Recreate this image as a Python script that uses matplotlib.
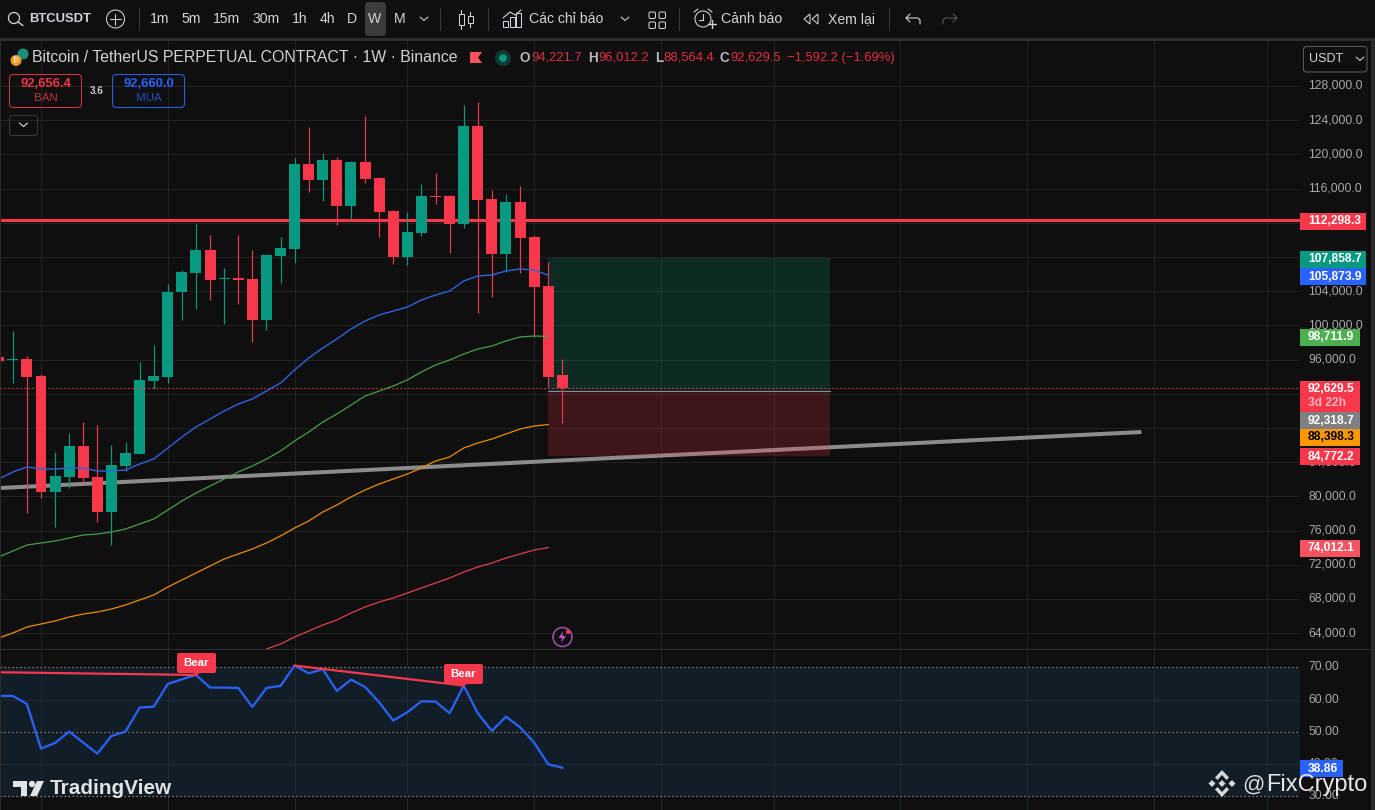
import matplotlib
matplotlib.use('Agg')
import matplotlib.pyplot as plt
from matplotlib.patches import FancyBboxPatch, Circle, Polygon, Rectangle

plt.rcParams['font.family'] = ['Liberation Sans', 'DejaVu Sans']

# weekly candles
opens = [96304, 95900, 96070, 94081, 80513, 82268, 85894, 82268, 78173, 83555, 84958, 93496, 93964, 103905,
         106128, 108818, 105426, 105543, 105426, 100630, 108116, 108935, 118876, 117005, 119344, 113964, 119110,
         117239, 113379, 107999, 110806, 115134, 115134, 111858, 123321, 114783, 108350, 114432, 110338, 104607,
         94221.7]
highs = [96421, 99344, 96421, 94315, 85192, 87414, 88700, 88350, 86011, 86361, 95719, 97707, 104841, 106478,
         111858, 110572, 106712, 110572, 108818, 108350, 110338, 119578, 123204, 120163, 119696, 119227, 124491,
         117356, 113496, 113262, 116537, 117824, 115251, 125777, 126128, 115836, 115368, 116303, 110572, 107414,
         96012.2]
lows = [95719, 93262, 78056, 79811, 76418, 80981, 81566, 77003, 74313, 82970, 84958, 92560, 93262, 100630,
        101917, 102970, 100162, 102502, 98058, 99461, 104958, 107297, 115602, 114549, 111742, 112443, 116654,
        110338, 107180, 107063, 110455, 114198, 108467, 111391, 101449, 103320, 106244, 106128, 98643, 92794,
        88564.4]
closes = [95836, 96070, 93964, 80513, 82385, 85894, 82151, 78173, 83672, 85075, 93613, 94081, 103905, 106244,
          108818, 105309, 105543, 105309, 100630, 108233, 109052, 118876, 117005, 119344, 113964, 119110, 117122,
          113262, 107999, 110923, 115134, 115017, 111858, 123321, 114666, 108350, 114432, 110221, 104490, 93964,
          92629.5]

ma_blue = [82034, 82853, 83438, 83204, 83204, 83321, 83321, 82970, 82970, 83087, 83789, 84373, 85660, 86946,
           88116, 89052, 89987, 90806, 91391, 92327, 93262, 94783, 96186, 97356, 98409, 99578, 100514, 101216,
           101683, 102151, 102970, 103555, 104023, 105192, 105777, 105894, 106362, 106596, 106479, 105874]
ma_green = [72911, 73613, 74315, 74549, 74783, 75134, 75484, 75601, 75835, 76186, 76771, 77356, 78408, 79461,
            80397, 81215, 82034, 82853, 83555, 84373, 85309, 86479, 87531, 88701, 89637, 90689, 91742, 92327,
            92911, 93613, 94549, 95368, 95952, 96654, 97239, 97590, 98175, 98642, 98759, 98712]
ma_orange = [63438, 64022, 64724, 65075, 65426, 65894, 66245, 66478, 66829, 67297, 67882, 68467, 69402, 70221,
             71040, 71859, 72677, 73262, 73847, 74549, 75367, 76303, 77122, 78174, 78993, 79929, 80748, 81449,
             82034, 82619, 83321, 84139, 84607, 85660, 86245, 86713, 87297, 87882, 88233, 88398]
# red average only enters the pane at bar 19
ma_red_start = 19
ma_red = [62151, 62736, 63554, 64256, 64958, 65543, 66362, 67063, 67648, 68116, 68701, 69286, 69870, 70455,
          71157, 71742, 72210, 72794, 73262, 73730, 74012]

rsi = [61.11, 61.11, 58.63, 44.78, 46.54, 50.05, 46.64, 43.23, 48.71, 50.05, 57.49, 57.80, 64.83, 66.28, 67.62,
       63.70, 63.70, 63.59, 57.70, 63.59, 64.21, 70.52, 68.14, 69.38, 62.66, 66.18, 63.90, 59.15, 53.46, 56.05,
       59.46, 59.35, 55.74, 64.32, 55.74, 50.26, 54.70, 51.40, 46.64, 39.92, 38.86]

resistance = 112298.3
last_price = 92629.5
target = 107858.7
entry = 92318.7
stop = 84772.2
box_bars = [39, 59]
trend_bars = [0.09, 81.1]
trend_prices = [80981, 87531]
div1_bars = [0.09, 14]
div1_rsi = [68.45, 67.62]
div2_bars = [21, 33]
div2_rsi = [70.52, 64.32]

price_ticks = list(range(64000, 132000, 4000))
# these sit fully under the coloured price labels
hidden_ticks = [88000, 92000, 108000, 112000, 132000]
rsi_ticks = [30, 40, 50, 60, 70]
month_bars = [3, 12, 21, 29, 38, 47, 55, 64, 73, 82, 90]

BG = '#0f0f0f'
GRID = '#222222'
RED = '#f23645'
BRIGHT_RED = '#f7374a'
GREEN = '#089981'
BLUE = '#2962ff'
TICK = '#a8a8a8'
THIN = 0.75
DOTS = (0, (1.3, 2.3))

fig = plt.figure(figsize=(13.75, 8.1), dpi=100, facecolor=BG)

# main pane, x in bars, y in price
ax = fig.add_axes([0, (810 - 649.5) / 810, 1300 / 1375, 608.5 / 810], facecolor=BG)
ax.set_xlim(0.09, 0.09 + 1300 / 14.09)
ax.set_ylim(62092, 133263)
for s in ax.spines.values():
    s.set_visible(False)
ax.yaxis.tick_right()
ax.set_yticks(price_ticks)
ax.set_yticklabels(['' if p in hidden_ticks else '{:,.1f}'.format(p) for p in price_ticks],
                   color=TICK, fontsize=8.7, va='center')
ax.set_xticks(month_bars)
ax.set_xticklabels([])
ax.tick_params(length=0, pad=5.8)
ax.grid(True, color=GRID, lw=THIN, zorder=0)
ax.set_axisbelow(True)

ax.axhline(resistance, color=BRIGHT_RED, lw=2.2, zorder=1)
ax.plot(trend_bars, trend_prices, color='#8c8c8c', lw=2.9, zorder=1, solid_capstyle='butt')

ax.fill_between(box_bars, entry, target, color=GREEN, alpha=0.2, lw=0, zorder=2)
ax.fill_between(box_bars, stop, entry, color=RED, alpha=0.2, lw=0, zorder=2)
ax.plot(box_bars, [entry, entry], color='#8f8f8f', lw=THIN, zorder=2)

for i in range(len(opens)):
    c = GREEN if closes[i] >= opens[i] else BRIGHT_RED
    ax.vlines(i, lows[i], highs[i], color=c, lw=0.85, zorder=3)
    body = max(abs(closes[i] - opens[i]), 120)
    ax.bar(i, body, bottom=min(opens[i], closes[i]), width=0.78, color=c, lw=0, zorder=3)

ax.plot(range(len(ma_blue)), ma_blue, color='#2f62e0', lw=1.0, zorder=4)
ax.plot(range(len(ma_green)), ma_green, color='#43a047', lw=0.9, zorder=4)
ax.plot(range(len(ma_orange)), ma_orange, color='#f08c00', lw=0.9, zorder=4)
ax.plot(range(ma_red_start, ma_red_start + len(ma_red)), ma_red, color='#e0404f', lw=0.9, zorder=4)
ax.axhline(last_price, color=BRIGHT_RED, lw=0.8, ls=DOTS, zorder=5)

# rsi pane
ax2 = fig.add_axes([0, 0, 1300 / 1375, (810 - 650.5) / 810], facecolor=BG)
ax2.set_xlim(0.09, 0.09 + 1300 / 14.09)
ax2.set_ylim(25.75, 75.2)
for s in ax2.spines.values():
    s.set_visible(False)
ax2.yaxis.tick_right()
ax2.set_yticks(rsi_ticks)
ax2.set_yticklabels(['{:.2f}'.format(v) for v in rsi_ticks], color=TICK, fontsize=8.7, va='center')
ax2.set_xticks(month_bars)
ax2.set_xticklabels([])
ax2.tick_params(length=0, pad=5.8)
ax2.axhspan(30, 70, color='#121e27', lw=0, zorder=0.5)
ax2.grid(True, color='#1f2a33', lw=THIN)
ax2.set_axisbelow(False)
for lvl in [70, 50, 30]:
    ax2.axhline(lvl, color=BG, lw=THIN, zorder=2.6)
    ax2.axhline(lvl, color='#9a9a9a', lw=0.8, ls=DOTS, zorder=2.7)
ax2.plot(range(len(rsi)), rsi, color='#2962ff', lw=1.6, zorder=3)
ax2.plot(div1_bars, div1_rsi, color=BRIGHT_RED, lw=1.6, zorder=4)
ax2.plot(div2_bars, div2_rsi, color=BRIGHT_RED, lw=1.6, zorder=4)

# everything else (toolbar, legend, price labels) in pixel coords
ui = fig.add_axes([0, 0, 1, 1], zorder=10)
ui.set_xlim(0, 1375)
ui.set_ylim(810, 0)
ui.axis('off')


def label(x, y, s, color='#d1d4dc', size=14, ha='left', weight='normal'):
    ui.text(x, y, s, color=color, fontsize=size * 0.72, ha=ha, va='center', fontweight=weight)


def rrect(x0, y0, x1, y1, r=3, fc='none', ec='none', lw=THIN):
    ui.add_patch(FancyBboxPatch((x0 + r, y0 + r), x1 - x0 - 2 * r, y1 - y0 - 2 * r,
                                boxstyle='round,pad=%f' % r, fc=fc, ec=ec, lw=lw))


def stroke(xs, ys, color='#d1d4dc', lw=0.8):
    ui.plot(xs, ys, color=color, lw=lw, solid_capstyle='round')


# frame
ui.add_patch(Rectangle((0, 38), 1375, 3, fc='#2e2e2e', lw=0))
ui.add_patch(Rectangle((0, 41), 1, 769, fc='#2a2a2a', lw=0))
ui.add_patch(Rectangle((1371, 41), 4, 769, fc='#2a2a2a', lw=0))
ui.add_patch(Rectangle((0, 649), 1371, 1.2, fc='#2e2e2e', lw=0))

# toolbar
ui.add_patch(Circle((14, 18), 5.5, fc='none', ec='#d1d4dc', lw=0.9))
stroke([18, 23], [22, 25.5], lw=1.0)
label(29, 19, 'BTCUSDT', size=13, weight='bold')
ui.add_patch(Circle((115.5, 19), 9, fc='none', ec='#d1d4dc', lw=THIN))
stroke([110, 121], [19, 19], lw=THIN)
stroke([115.5, 115.5], [13.5, 24.5], lw=THIN)
for x in [139, 440, 488, 679, 889]:
    stroke([x, x], [8, 30], color='#3a3a3a', lw=THIN)
rrect(365, 2, 386, 36, r=4, fc='#3c3c3c')
intervals = ['1m', '5m', '15m', '30m', '1h', '4h', 'D', 'W', 'M']
interval_x = [160, 191, 227, 266, 299.5, 327, 352, 375, 400]
for s, x in zip(intervals, interval_x):
    label(x, 19, s, ha='center', size=14)
for cx in [424, 625, 1360]:
    cy = 19 if cx != 1360 else 59
    stroke([cx - 4, cx, cx + 4], [cy - 2, cy + 1.5, cy - 2], lw=THIN)

# candle icon
ui.add_patch(Rectangle((459, 14), 5, 11, fc='none', ec='#d1d4dc', lw=THIN))
stroke([461.5, 461.5], [10, 14])
stroke([461.5, 461.5], [25, 29])
ui.add_patch(Rectangle((468, 16), 5, 7, fc='none', ec='#d1d4dc', lw=THIN))
stroke([470.5, 470.5], [12, 16])
stroke([470.5, 470.5], [23, 27])
# indicator icon
stroke([503, 510, 515, 521], [18, 12, 15, 10])
for x, h in zip([503, 510, 516], [6, 10, 14]):
    ui.add_patch(Rectangle((x, 27 - h), 5, h, fc='none', ec='#d1d4dc', lw=THIN))
label(529, 19, 'Các chỉ báo', size=14)
# layout icon
for x, y in [(649, 12), (659, 12), (649, 22), (659, 22)]:
    rrect(x, y, x + 6.5, y + 6.5, r=1.5, ec='#d1d4dc')
# alarm icon
ui.add_patch(Circle((703, 19), 8, fc='none', ec='#d1d4dc', lw=THIN))
stroke([703, 703, 699], [14, 20, 20])
stroke([694, 698], [12, 9])
stroke([708, 712], [9, 12])
stroke([708, 716], [24, 24], lw=1.0)
stroke([712, 712], [20, 28], lw=1.0)
label(721, 19, 'Cảnh báo', size=14)
# replay icon
ui.add_patch(Polygon([[810, 14], [810, 24], [804, 19]], fc='none', ec='#d1d4dc', lw=THIN))
ui.add_patch(Polygon([[818, 14], [818, 24], [812, 19]], fc='none', ec='#d1d4dc', lw=THIN))
label(828, 19, 'Xem lại', size=14)
# undo / redo
stroke([906, 918, 920, 920], [18, 18, 20, 24])
stroke([910, 906, 910], [14, 18, 22])
stroke([957, 945, 943, 943], [18, 18, 20, 24], color='#555555')
stroke([953, 957, 953], [14, 18, 22], color='#555555')

# legend row
label(32, 57, 'Bitcoin / TetherUS PERPETUAL CONTRACT · 1W · Binance', color='#d1d1d1', size=15.85)
ui.add_patch(Circle((23, 54), 5.5, fc='#1a8f7d', lw=0))
ui.add_patch(Circle((16, 60.5), 5.5, fc='#f7931a', lw=0))
ui.text(16, 60.5, '₿', color='white', fontsize=6, ha='center', va='center')
ui.add_patch(Polygon([[470, 52], [482, 52], [478, 57.5], [482, 63], [470, 63]], fc='#f7525f', lw=0))
ui.add_patch(Circle((503, 58), 8, fc='#0f3a33', lw=0))
ui.add_patch(Circle((503, 58), 3.8, fc=GREEN, lw=0))
ohlc_red = '#e0303f'
label(520, 58, 'O', color='#b8b8b8', size=13.5, weight='bold')
label(531, 58, '94,221.7', color=ohlc_red, size=13)
label(588, 58, 'H', color='#b8b8b8', size=13.5, weight='bold')
label(598, 58, '96,012.2', color=ohlc_red, size=13)
label(655, 58, 'L', color='#b8b8b8', size=13.5, weight='bold')
label(663, 58, '88,564.4', color=ohlc_red, size=13)
label(720, 58, 'C', color='#b8b8b8', size=13.5, weight='bold')
label(730, 58, '92,629.5', color=ohlc_red, size=13)
label(787, 58, '−1,592.2 (−1.69%)', color=ohlc_red, size=13)

# buy / sell
rrect(9.5, 74.5, 81.5, 107.5, r=4, ec='#d8323f')
label(46, 84, '92,656.4', color=RED, size=13, ha='center', weight='bold')
label(46, 98, 'BÁN', color='#c8303c', size=11.5, ha='center')
label(97, 90.5, '3.6', color='#cccccc', size=10, ha='center', weight='bold')
rrect(112.5, 74.5, 184.5, 107.5, r=4, ec='#2a5fe8')
label(149, 84, '92,660.0', color='#2962ff', size=13, ha='center', weight='bold')
label(149, 98, 'MUA', color='#2450c0', size=11.5, ha='center')
rrect(9.5, 115.5, 37.5, 135.5, r=3, ec='#3a3a3a')
stroke([19.5, 23.5, 27.5], [123, 126.5, 123], color='#d8d8d8')

# currency box
rrect(1303.5, 46.5, 1367, 72, r=3, ec='#5a5a5a')
label(1309, 59, 'USDT', color='#d1d4dc', size=12.5)

# price labels on the axis
axis_labels = [
    ('112,298.3', 221.5, BRIGHT_RED, 1366, 'white'),
    ('107,858.7', 259.5, GREEN, 1366, 'white'),
    ('105,873.9', 276.5, BLUE, 1366, 'white'),
    ('98,711.9', 337.5, '#4caf50', 1360, 'white'),
    ('92,318.7', 420.5, '#808080', 1360, 'white'),
    ('88,398.3', 437.5, '#ff9800', 1360, 'black'),
    ('84,772.2', 456.5, BRIGHT_RED, 1360, 'white'),
    ('74,012.1', 548, '#f7525f', 1360, 'white'),
]
for s, y, c, x1, tc in axis_labels:
    ui.add_patch(Rectangle((1300, y - 8.5), x1 - 1300, 17, fc=c, lw=0))
    label(1308, y, s, color=tc, size=12, weight='bold')
ui.add_patch(Rectangle((1300, 381), 60, 31, fc=BRIGHT_RED, lw=0))
label(1308, 389, '92,629.5', color='white', size=12, weight='bold')
label(1308, 403, '3d 22h', color='#ffb3ba', size=12, weight='bold')
ui.add_patch(Rectangle((1300, 760), 43, 17, fc=BLUE, lw=0))
label(1308, 768.5, '38.86', color='white', size=12, weight='bold')

# divergence tags
for x0, x1, y0 in [(177, 216, 653), (444, 483, 664)]:
    mid = (x0 + x1) / 2
    ui.add_patch(Polygon([[mid - 4, y0 + 19], [mid + 4, y0 + 19], [mid, y0 + 23]], fc=BRIGHT_RED, lw=0))
    rrect(x0, y0, x1, y0 + 20, r=2, fc=BRIGHT_RED)
    label(mid, y0 + 10, 'Bear', color='white', size=11.5, ha='center', weight='bold')

# lightning badge
ui.add_patch(Circle((562.5, 637), 9.5, fc='#0f0f0f', ec='#9c4ba8', lw=1.2))
ui.add_patch(Polygon([[563, 631], [558.5, 638], [562, 638], [561, 643], [566, 636], [562.5, 636]],
                     fc='#b455c0', lw=0))
ui.add_patch(Circle((568, 632), 2.2, fc=BRIGHT_RED, lw=0))

# TradingView mark
TV = '#e2e2e2'
ui.add_patch(Polygon([[13, 781], [27, 781], [27, 796], [21, 796], [21, 787], [13, 787]], fc=TV, lw=0))
ui.add_patch(Circle((32, 784), 3.2, fc=TV, lw=0))
ui.add_patch(Polygon([[37, 781], [44, 781], [37, 796], [30, 796]], fc=TV, lw=0))
label(50, 789, 'TradingView', color=TV, size=20.8, weight='bold')

# binance mark + watermark
W = '#d8d8d8'
cx, cy = 1222, 783.5
for dx, dy in [(0, 0), (-10, 0), (10, 0)]:
    ui.add_patch(Polygon([[cx + dx - 3.5, cy + dy], [cx + dx, cy + dy - 3.5], [cx + dx + 3.5, cy + dy],
                          [cx + dx, cy + dy + 3.5]], fc=W, lw=0))
ui.add_patch(Polygon([[cx - 7, cy - 6], [cx, cy - 13.5], [cx + 7, cy - 6], [cx + 4.5, cy - 3.5],
                      [cx, cy - 8.5], [cx - 4.5, cy - 3.5]], fc=W, lw=0))
ui.add_patch(Polygon([[cx - 7, cy + 6], [cx, cy + 13.5], [cx + 7, cy + 6], [cx + 4.5, cy + 3.5],
                      [cx, cy + 8.5], [cx - 4.5, cy + 3.5]], fc=W, lw=0))
label(1242, 785, '@', color='#dddddd', size=22)
label(1266, 785, 'FixCrypto', color='#e8e8e8', size=23.6)

fig.savefig('out.png', dpi=100, facecolor=BG)
